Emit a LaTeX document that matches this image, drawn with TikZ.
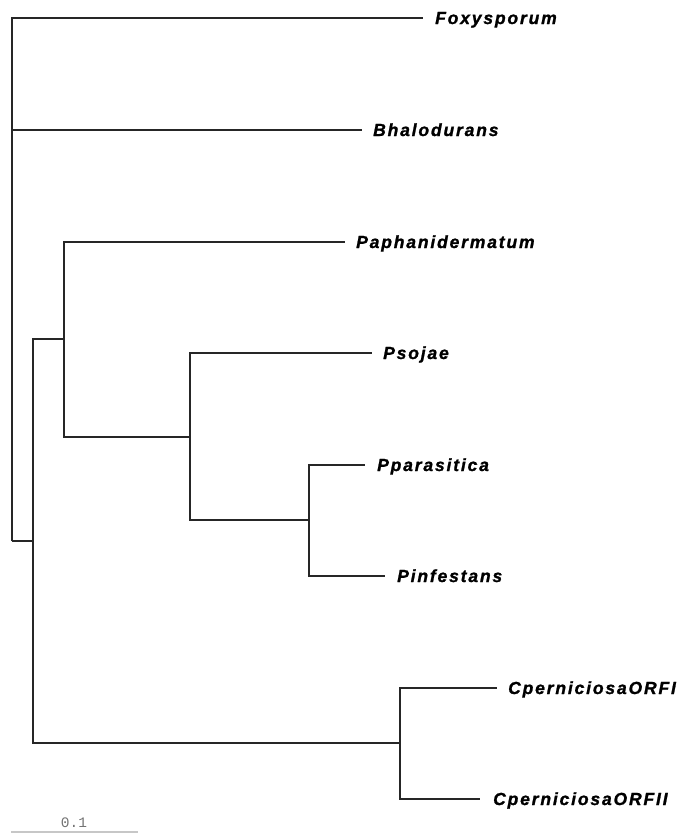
\documentclass[tikz,border=0pt]{standalone}
\usepackage{fontspec}
\newfontfamily\labfont[LetterSpace=10.5,BoldItalicFeatures={FakeBold=1.2}]{Liberation Sans}
\newfontfamily\scalefont{Liberation Mono}
\begin{document}
\begin{tikzpicture}[x=1pt,y=-1pt,
  branch/.style={line width=1.1pt,draw=black!85},
  leaflab/.style={anchor=base west,inner sep=0pt,font=\labfont\bfseries\itshape\fontsize{17.5}{17.5}\selectfont},
  scalebar/.style={line width=1.2pt,draw=black!22},
  scalelab/.style={anchor=base,inner sep=0pt,text=black!55,font=\scalefont\fontsize{14.5}{14.5}\selectfont}]
\useasboundingbox (0,0) rectangle (677,833);
% internal nodes
\coordinate (r)  at (12,541);
\coordinate (n1) at (33,541);
\coordinate (n2) at (64,339);
\coordinate (n3) at (190,437);
\coordinate (n4) at (309,520);
\coordinate (n5) at (400,743);
% leaf tips
\coordinate (fox)  at (423,18);
\coordinate (bha)  at (362,130);
\coordinate (pap)  at (345,242);
\coordinate (pso)  at (372,353);
\coordinate (ppa)  at (365,465);
\coordinate (pin)  at (385,576);
\coordinate (orf1) at (497,688);
\coordinate (orf2) at (480,799);
% labels
\node[leaflab] (Lfox)  at ([xshift=12pt,yshift=-6pt]fox)  {Foxysporum};
\node[leaflab] (Lbha)  at ([xshift=11pt,yshift=-6pt]bha)  {Bhalodurans};
\node[leaflab] (Lpap)  at ([xshift=11pt,yshift=-6pt]pap)  {Paphanidermatum};
\node[leaflab] (Lpso)  at ([xshift=11pt,yshift=-6pt]pso)  {Psojae};
\node[leaflab] (Lppa)  at ([xshift=12pt,yshift=-6pt]ppa)  {Pparasitica};
\node[leaflab] (Lpin)  at ([xshift=12pt,yshift=-6pt]pin)  {Pinfestans};
\node[leaflab] (Lorf1) at ([xshift=11pt,yshift=-6pt]orf1) {CperniciosaORFI};
\node[leaflab] (Lorf2) at ([xshift=13pt,yshift=-6pt]orf2) {CperniciosaORFII};
% branches
\draw[branch] (r) |- (fox);
\draw[branch] (r) |- (bha);
\draw[branch] (r) -- (n1);
\draw[branch] (n1) |- (n2);
\draw[branch] (n1) |- (n5);
\draw[branch] (n2) |- (pap);
\draw[branch] (n2) |- (n3);
\draw[branch] (n3) |- (pso);
\draw[branch] (n3) |- (n4);
\draw[branch] (n4) |- (ppa);
\draw[branch] (n4) |- (pin);
\draw[branch] (n5) |- (orf1);
\draw[branch] (n5) |- (orf2);
% scale bar
\coordinate (sb1) at (11,832);
\coordinate (sb2) at (138,832);
\draw[scalebar] (sb1) -- (sb2);
\node[scalelab] (sbl) at (74,827.5) {0.1};
\end{tikzpicture}
\end{document}
